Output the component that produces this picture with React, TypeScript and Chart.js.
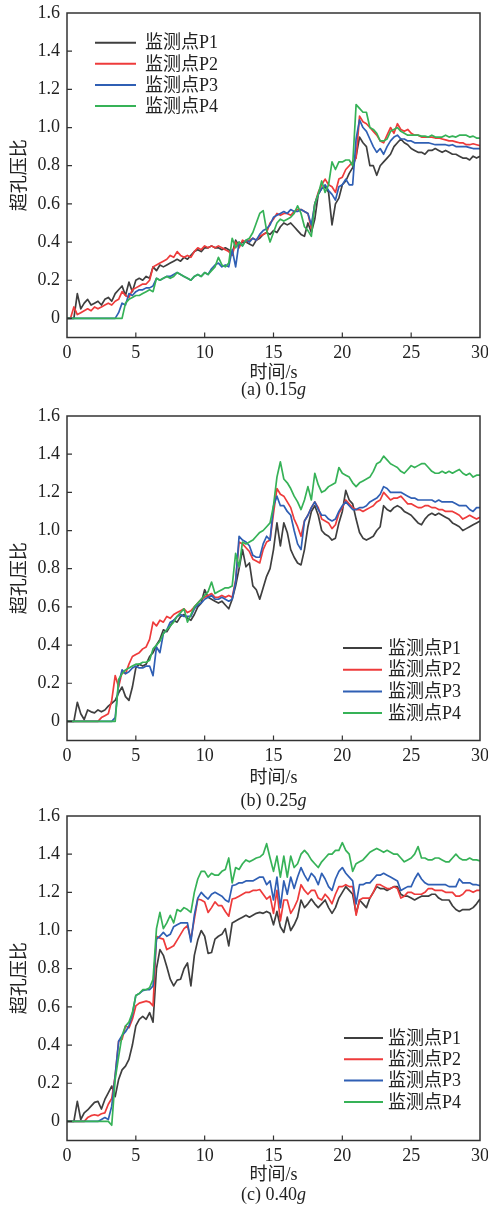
import React, { useEffect, useRef } from 'react';
import { Chart, registerables } from 'chart.js';

Chart.register(...registerables);

// ---------- data ----------
const TIME = [
  0, 0.25, 0.5, 0.75, 1, 1.25, 1.5, 1.75, 2, 2.25, 2.5, 2.75, 3, 3.25, 3.5, 3.75,
  4, 4.25, 4.5, 4.75, 5, 5.25, 5.5, 5.75, 6, 6.25, 6.5, 6.75, 7, 7.25, 7.5, 7.75,
  8, 8.25, 8.5, 8.75, 9, 9.25, 9.5, 9.75, 10, 10.25, 10.5, 10.75, 11, 11.25, 11.5, 11.75,
  12, 12.25, 12.5, 12.75, 13, 13.25, 13.5, 13.75, 14, 14.25, 14.5, 14.75, 15, 15.25, 15.5, 15.75,
  16, 16.25, 16.5, 16.75, 17, 17.25, 17.5, 17.75, 18, 18.25, 18.5, 18.75, 19, 19.25, 19.5, 19.75,
  20, 20.25, 20.5, 20.75, 21, 21.25, 21.5, 21.75, 22, 22.25, 22.5, 22.75, 23, 23.25, 23.5, 23.75,
  24, 24.25, 24.5, 24.75, 25, 25.25, 25.5, 25.75, 26, 26.25, 26.5, 26.75, 27, 27.25, 27.5, 27.75,
  28, 28.25, 28.5, 28.75, 29, 29.25, 29.5, 29.75, 30,
];

const X_TICKS = [0, 5, 10, 15, 20, 25, 30];
const Y_TICKS = [0, 0.2, 0.4, 0.6, 0.8, 1.0, 1.2, 1.4, 1.6];
const SERIES_NAMES = ['监测点P1', '监测点P2', '监测点P3', '监测点P4'];
const SERIES_COLORS = ['#3f3f3f', '#ee3b3b', '#2f5fb4', '#36b257'];
const X_TITLE = '时间/s';
const Y_TITLE = '超孔压比';

// (a) 0.15g
const A_P1 = [
  0, 0, 0, 0.13, 0.05, 0.08, 0.10, 0.07, 0.08, 0.09, 0.07, 0.10, 0.11, 0.09, 0.13, 0.15,
  0.17, 0.12, 0.19, 0.14, 0.20, 0.21, 0.20, 0.22, 0.21, 0.27, 0.25, 0.28, 0.27, 0.28, 0.29, 0.30,
  0.31, 0.30, 0.32, 0.31, 0.33, 0.35, 0.36, 0.35, 0.37, 0.37, 0.38, 0.37, 0.37, 0.36, 0.37, 0.36,
  0.34, 0.41, 0.38, 0.40, 0.40, 0.39, 0.38, 0.41, 0.42, 0.44, 0.45, 0.44, 0.46, 0.45, 0.48, 0.50,
  0.49, 0.50, 0.48, 0.46, 0.44, 0.43, 0.50, 0.45, 0.52, 0.65, 0.68, 0.69, 0.66, 0.49, 0.60, 0.63,
  0.70, 0.72, 0.76, 0.79, 0.85, 0.95, 0.92, 0.90, 0.80, 0.80, 0.75, 0.80, 0.82, 0.84, 0.86, 0.90,
  0.92, 0.94, 0.92, 0.91, 0.89, 0.88, 0.87, 0.87, 0.86, 0.88, 0.88, 0.89, 0.88, 0.87, 0.88, 0.87,
  0.86, 0.86, 0.85, 0.84, 0.84, 0.83, 0.85, 0.84, 0.85,
];
const A_P2 = [
  0, 0, 0.06, 0.02, 0.03, 0.04, 0.05, 0.04, 0.06, 0.05, 0.06, 0.07, 0.08, 0.07, 0.09, 0.10,
  0.14, 0.12, 0.11, 0.15, 0.16, 0.17, 0.18, 0.18, 0.20, 0.27, 0.28, 0.29, 0.30, 0.31, 0.33, 0.32,
  0.35, 0.33, 0.32, 0.33, 0.32, 0.35, 0.37, 0.36, 0.38, 0.37, 0.38, 0.37, 0.38, 0.37, 0.36, 0.35,
  0.33, 0.40, 0.37, 0.41, 0.40, 0.41, 0.42, 0.41, 0.43, 0.44, 0.45, 0.50, 0.52, 0.55, 0.54, 0.55,
  0.55, 0.54, 0.56, 0.57, 0.57, 0.56, 0.55, 0.47, 0.60, 0.66, 0.70, 0.73, 0.70, 0.69, 0.66, 0.73,
  0.74, 0.78, 0.80, 0.82, 0.84, 1.06, 1.03, 1.02, 1.00, 0.98, 0.96, 0.93, 0.92, 0.96, 1.00, 0.97,
  1.02, 0.99, 0.98, 0.99, 0.97, 0.96, 0.96, 0.95, 0.95, 0.95, 0.95, 0.945, 0.945, 0.94, 0.935, 0.93,
  0.93, 0.925, 0.92, 0.92, 0.91, 0.91, 0.915, 0.91, 0.905,
];
const A_P3 = [
  0, 0, 0, 0, 0, 0, 0, 0, 0, 0, 0, 0, 0, 0, 0, 0.03,
  0.08, 0.07, 0.13, 0.12, 0.14, 0.15, 0.15, 0.16, 0.16, 0.17, 0.21, 0.20, 0.21, 0.22, 0.22, 0.23,
  0.24, 0.23, 0.22, 0.21, 0.20, 0.22, 0.23, 0.22, 0.24, 0.23, 0.26, 0.28, 0.29, 0.27, 0.28, 0.27,
  0.36, 0.27, 0.40, 0.38, 0.41, 0.40, 0.42, 0.41, 0.44, 0.46, 0.47, 0.49, 0.53, 0.54, 0.55, 0.56,
  0.55, 0.57, 0.56, 0.56, 0.57, 0.56, 0.55, 0.49, 0.60, 0.65, 0.68, 0.70, 0.67, 0.65, 0.62, 0.69,
  0.70, 0.73, 0.70, 0.70, 0.94, 1.04, 1.00, 0.98, 0.94, 0.90, 0.87, 0.89, 0.86, 0.90, 0.93, 0.95,
  0.96, 0.94, 0.94, 0.93, 0.93, 0.92, 0.92, 0.92, 0.92, 0.92, 0.915, 0.91, 0.91, 0.91, 0.91, 0.905,
  0.91, 0.90, 0.90, 0.90, 0.90, 0.895, 0.89, 0.89, 0.89,
];
const A_P4 = [
  0, 0, 0, 0, 0, 0, 0, 0, 0, 0, 0, 0, 0, 0, 0, 0,
  0, 0.08, 0.10, 0.11, 0.12, 0.12, 0.13, 0.14, 0.15, 0.14, 0.21, 0.20, 0.21, 0.22, 0.21, 0.22,
  0.24, 0.23, 0.22, 0.21, 0.20, 0.22, 0.23, 0.22, 0.24, 0.23, 0.25, 0.27, 0.32, 0.28, 0.27, 0.29,
  0.42, 0.37, 0.40, 0.38, 0.41, 0.42, 0.45, 0.50, 0.55, 0.565, 0.46, 0.40, 0.45, 0.50, 0.52, 0.51,
  0.52, 0.53, 0.55, 0.59, 0.55, 0.48, 0.46, 0.43, 0.60, 0.65, 0.72, 0.66, 0.70, 0.82, 0.78, 0.82,
  0.82, 0.83, 0.83, 0.80, 1.12, 1.10, 1.08, 1.08, 1.00, 0.99, 0.97, 0.93, 0.93, 0.94, 0.98, 0.99,
  1.00, 0.98, 0.97, 0.96, 0.96, 0.96, 0.96, 0.955, 0.955, 0.95, 0.96, 0.95, 0.95, 0.95, 0.96, 0.95,
  0.955, 0.95, 0.96, 0.96, 0.96, 0.95, 0.955, 0.945, 0.945,
];

// (b) 0.25g
const B_P1 = [
  0, 0, 0, 0.10, 0.04, 0.01, 0.06, 0.05, 0.045, 0.06, 0.05, 0.06, 0.08, 0.095, 0.11, 0.15,
  0.18, 0.13, 0.11, 0.18, 0.28, 0.30, 0.29, 0.30, 0.34, 0.36, 0.40, 0.43, 0.48, 0.47, 0.50, 0.53,
  0.52, 0.55, 0.56, 0.54, 0.53, 0.56, 0.60, 0.62, 0.69, 0.65, 0.64, 0.63, 0.62, 0.63, 0.61, 0.59,
  0.64, 0.71, 0.80, 0.90, 0.81, 0.83, 0.71, 0.69, 0.64, 0.70, 0.76, 0.80, 0.90, 1.04, 0.92, 1.04,
  0.99, 0.90, 0.86, 0.83, 0.82, 0.90, 1.02, 1.10, 1.13, 1.08, 1.00, 0.98, 0.97, 0.95, 0.96, 1.04,
  1.10, 1.21, 1.16, 1.14, 1.06, 0.99, 0.96, 0.95, 0.96, 0.97, 1.00, 1.02, 1.13, 1.11, 1.10, 1.12,
  1.13, 1.12, 1.10, 1.09, 1.08, 1.06, 1.04, 1.03, 1.06, 1.08, 1.09, 1.08, 1.09, 1.08, 1.07, 1.06,
  1.04, 1.03, 1.02, 1.00, 1.01, 1.02, 1.03, 1.04, 1.05,
];
const B_P2 = [
  0, 0, 0, 0, 0, 0, 0, 0, 0, 0, 0.02, 0.03, 0.04, 0.11, 0.24, 0.18,
  0.26, 0.25, 0.30, 0.34, 0.35, 0.36, 0.38, 0.39, 0.43, 0.52, 0.50, 0.53, 0.52, 0.55, 0.54, 0.56,
  0.57, 0.58, 0.59, 0.57, 0.58, 0.60, 0.62, 0.64, 0.65, 0.66, 0.67, 0.65, 0.65, 0.66, 0.65, 0.66,
  0.65, 0.74, 0.94, 0.93, 0.91, 0.89, 0.85, 0.84, 0.83, 0.90, 0.94, 0.95, 1.09, 1.22, 1.19, 1.18,
  1.15, 1.12, 1.06, 1.02, 0.97, 1.05, 1.08, 1.12, 1.15, 1.12, 1.06, 1.05, 1.04, 1.01, 1.03, 1.09,
  1.12, 1.16, 1.14, 1.12, 1.11, 1.11, 1.10, 1.11, 1.12, 1.13, 1.15, 1.16, 1.20, 1.18, 1.16, 1.17,
  1.17, 1.18, 1.16, 1.14, 1.14, 1.13, 1.12, 1.12, 1.13, 1.13, 1.12, 1.12, 1.11, 1.11, 1.10, 1.10,
  1.10, 1.09, 1.08, 1.06, 1.07, 1.08, 1.07, 1.06, 1.07,
];
const B_P3 = [
  0, 0, 0, 0, 0, 0, 0, 0, 0, 0, 0, 0, 0, 0, 0.02, 0.20,
  0.27, 0.25, 0.26, 0.28, 0.29, 0.28, 0.28, 0.29, 0.29, 0.24, 0.39, 0.36, 0.46, 0.48, 0.52, 0.53,
  0.55, 0.56, 0.55, 0.55, 0.55, 0.59, 0.61, 0.62, 0.64, 0.65, 0.66, 0.64, 0.64, 0.65, 0.64, 0.63,
  0.64, 0.73, 0.97, 0.95, 0.94, 0.92, 0.87, 0.86, 0.86, 0.93, 0.97, 0.95, 1.13, 1.18, 1.13, 1.13,
  1.10, 1.08, 1.00, 0.93, 0.90, 1.05, 1.08, 1.12, 1.15, 1.11, 1.08, 1.08, 1.06, 1.05, 1.06, 1.10,
  1.13, 1.15, 1.13, 1.11, 1.11, 1.12, 1.12, 1.13, 1.15, 1.16, 1.17, 1.19, 1.23, 1.22, 1.20, 1.20,
  1.20, 1.20, 1.19, 1.18, 1.17, 1.17, 1.16, 1.16, 1.16, 1.16, 1.16, 1.15, 1.16, 1.15, 1.15, 1.15,
  1.15, 1.14, 1.13, 1.13, 1.13, 1.11, 1.10, 1.12, 1.12,
];
const B_P4 = [
  0, 0, 0, 0, 0, 0, 0, 0, 0, 0, 0, 0, 0, 0, 0, 0.22,
  0.25, 0.27, 0.28, 0.29, 0.30, 0.30, 0.31, 0.31, 0.32, 0.38, 0.40, 0.42, 0.46, 0.48, 0.50, 0.52,
  0.55, 0.57, 0.59, 0.52, 0.56, 0.60, 0.62, 0.64, 0.66, 0.68, 0.73, 0.67, 0.68, 0.69, 0.70, 0.70,
  0.71, 0.88, 0.81, 0.94, 0.93, 0.94, 0.95, 0.97, 0.99, 1.00, 1.02, 1.04, 1.13, 1.28, 1.36, 1.27,
  1.25, 1.22, 1.18, 1.15, 1.11, 1.16, 1.23, 1.16, 1.30, 1.24, 1.20, 1.21, 1.23, 1.24, 1.25, 1.33,
  1.30, 1.29, 1.28, 1.25, 1.23, 1.25, 1.26, 1.27, 1.28, 1.31, 1.35, 1.36, 1.39, 1.37, 1.35, 1.34,
  1.33, 1.31, 1.30, 1.32, 1.34, 1.33, 1.34, 1.35, 1.35, 1.33, 1.31, 1.30, 1.30, 1.31, 1.30, 1.31,
  1.30, 1.31, 1.32, 1.30, 1.29, 1.30, 1.28, 1.29, 1.29,
];

// (c) 0.40g
const C_P1 = [
  0, 0, 0, 0.105, 0.01, 0.045, 0.06, 0.08, 0.10, 0.105, 0.065, 0.115, 0.15, 0.185, 0.13, 0.22,
  0.27, 0.29, 0.325, 0.40, 0.50, 0.535, 0.55, 0.535, 0.57, 0.52, 0.80, 0.90, 0.87, 0.81, 0.745, 0.71,
  0.74, 0.745, 0.80, 0.83, 0.71, 0.87, 0.95, 1.00, 0.97, 0.88, 0.885, 0.955, 0.97, 0.98, 1.01, 0.92,
  1.04, 1.05, 1.06, 1.07, 1.08, 1.07, 1.08, 1.09, 1.095, 1.09, 1.10, 1.09, 1.03, 1.10, 1.02, 0.99,
  1.07, 1.00, 1.03, 1.07, 1.16, 1.12, 1.14, 1.165, 1.14, 1.12, 1.14, 1.16, 1.12, 1.09, 1.12, 1.17,
  1.20, 1.23, 1.21, 1.19, 1.09, 1.16, 1.14, 1.12, 1.17, 1.20, 1.23, 1.22, 1.22, 1.21, 1.22, 1.23,
  1.23, 1.19, 1.18, 1.18, 1.17, 1.16, 1.17, 1.18, 1.18, 1.18, 1.19, 1.19, 1.17, 1.16, 1.16, 1.16,
  1.13, 1.11, 1.10, 1.11, 1.11, 1.11, 1.12, 1.14, 1.165,
];
const C_P2 = [
  0, 0, 0, 0, 0, 0, 0.02, 0.03, 0.035, 0.03, 0.04, 0.045, 0.09, 0.12, 0.24, 0.42,
  0.43, 0.50, 0.49, 0.535, 0.605, 0.62, 0.625, 0.63, 0.625, 0.605, 0.97, 0.96, 0.955, 0.90, 0.91, 0.92,
  0.95, 0.98, 1.01, 1.025, 0.955, 1.06, 1.165, 1.16, 1.15, 1.095, 1.12, 1.15, 1.13, 1.13, 1.10, 1.075,
  1.165, 1.17, 1.18, 1.19, 1.20, 1.20, 1.21, 1.21, 1.215, 1.19, 1.165, 1.18, 1.09, 1.21, 1.05, 1.16,
  1.16, 1.09, 1.12, 1.16, 1.24, 1.21, 1.19, 1.21, 1.21, 1.17, 1.16, 1.19, 1.17, 1.14, 1.19, 1.23,
  1.23, 1.24, 1.23, 1.23, 1.08, 1.16, 1.17, 1.17, 1.17, 1.20, 1.24, 1.24, 1.23, 1.22, 1.22, 1.23,
  1.22, 1.17, 1.18, 1.20, 1.20, 1.19, 1.19, 1.19, 1.20, 1.22, 1.22, 1.21, 1.21, 1.21, 1.20, 1.20,
  1.20, 1.18, 1.18, 1.19, 1.21, 1.21, 1.20, 1.21, 1.21,
];
const C_P3 = [
  0, 0, 0, 0, 0, 0, 0, 0, 0, 0, 0.01, 0.02, 0.01, 0.08, 0.24, 0.42,
  0.45, 0.47, 0.50, 0.56, 0.66, 0.67, 0.685, 0.69, 0.69, 0.71, 0.955, 0.97, 0.99, 0.97, 0.98, 1.02,
  1.03, 1.04, 1.04, 1.04, 0.94, 1.08, 1.17, 1.20, 1.18, 1.165, 1.19, 1.20, 1.19, 1.18, 1.16, 1.15,
  1.235, 1.24, 1.25, 1.25, 1.26, 1.26, 1.26, 1.27, 1.28, 1.28, 1.24, 1.26, 1.16, 1.28, 1.12, 1.26,
  1.19, 1.28, 1.22, 1.28, 1.33, 1.29, 1.26, 1.30, 1.28, 1.24, 1.30, 1.27, 1.23, 1.21, 1.27, 1.31,
  1.33, 1.30, 1.28, 1.26, 1.14, 1.24, 1.24, 1.25, 1.25, 1.27, 1.29, 1.29, 1.30, 1.29, 1.28, 1.27,
  1.26, 1.21, 1.22, 1.23, 1.23, 1.27, 1.30, 1.27, 1.25, 1.24, 1.24, 1.24, 1.24, 1.24, 1.24, 1.23,
  1.23, 1.23, 1.27, 1.25, 1.25, 1.25, 1.24, 1.24, 1.235,
];
const C_P4 = [
  0, 0, 0, 0, 0, 0, 0, 0, 0, 0, 0, 0, 0, -0.02, 0.22, 0.34,
  0.45, 0.50, 0.52, 0.57, 0.66, 0.67, 0.69, 0.69, 0.70, 0.745, 1.01, 1.095, 1.01, 1.04, 1.08, 1.04,
  1.11, 1.10, 1.12, 1.11, 1.095, 1.20, 1.27, 1.31, 1.31, 1.28, 1.30, 1.29, 1.29, 1.31, 1.32, 1.38,
  1.25, 1.33, 1.32, 1.35, 1.37, 1.36, 1.37, 1.38, 1.385, 1.40, 1.455, 1.38, 1.31, 1.39, 1.28, 1.39,
  1.28, 1.39, 1.33, 1.35, 1.40, 1.42, 1.40, 1.37, 1.35, 1.33, 1.36, 1.38, 1.40, 1.40, 1.42, 1.42,
  1.46, 1.42, 1.40, 1.31, 1.35, 1.36, 1.37, 1.39, 1.41, 1.42, 1.43, 1.42, 1.41, 1.42, 1.41, 1.40,
  1.40, 1.38, 1.36, 1.37, 1.38, 1.40, 1.44, 1.38, 1.38, 1.37, 1.37, 1.38, 1.38, 1.37, 1.36, 1.36,
  1.38, 1.40, 1.38, 1.37, 1.37, 1.38, 1.37, 1.37, 1.365,
];

// ---------- layout ----------
const FONT = "'Liberation Serif', 'Noto Sans CJK SC', serif";
const TEXT_COLOR = '#222222';
const CANVAS_W = 488;
const CANVAS_H = 420;
const AREA_TOP = 16;
const AREA_H = 324.5;

const PANELS = [
  {
    id: 'a', caption: '(a) 0.15', series: [A_P1, A_P2, A_P3, A_P4], top: -3,
    legend: { x1: 95, x2: 136, tx: 145, y0: 29.7, gap: 21.1 }, captionOffset: 52.5, titleOffset: 35.5,
  },
  {
    id: 'b', caption: '(b) 0.25', series: [B_P1, B_P2, B_P3, B_P4], top: 400,
    legend: { x1: 343, x2: 382, tx: 388, y0: 232, gap: 21.7 }, captionOffset: 61.2, titleOffset: 37.5,
  },
  {
    id: 'c', caption: '(c) 0.40', series: [C_P1, C_P2, C_P3, C_P4], top: 800,
    legend: { x1: 344, x2: 383, tx: 388, y0: 222, gap: 21.3 }, captionOffset: 54.5, titleOffset: 34.5,
  },
];

const decoPlugin = {
  id: 'panelDeco',
  afterDraw(chart: any, _args: any, opts: any) {
    const { ctx, chartArea } = chart;
    const { left, right, top, bottom } = chartArea;
    const xs = chart.scales.x;
    const ys = chart.scales.y;
    ctx.save();
    // frame
    ctx.strokeStyle = '#333333';
    ctx.lineWidth = 1.5;
    ctx.strokeRect(left, top, right - left, bottom - top);
    // inward ticks
    ctx.lineWidth = 1.2;
    ctx.beginPath();
    X_TICKS.forEach((v) => {
      const px = xs.getPixelForValue(v);
      if (px <= left + 1 || px >= right - 1) return;
      ctx.moveTo(px, bottom);
      ctx.lineTo(px, bottom - 5);
    });
    Y_TICKS.forEach((v) => {
      const py = ys.getPixelForValue(v);
      if (py <= top + 1 || py >= bottom - 1) return;
      ctx.moveTo(left, py);
      ctx.lineTo(left + 5, py);
    });
    ctx.stroke();
    // legend
    const lg = opts.legend;
    ctx.font = `18px ${FONT}`;
    ctx.textBaseline = 'middle';
    ctx.textAlign = 'left';
    chart.data.datasets.forEach((ds: any, i: number) => {
      const y = top + lg.y0 + i * lg.gap;
      ctx.strokeStyle = ds.borderColor;
      ctx.lineWidth = 2;
      ctx.beginPath();
      ctx.moveTo(lg.x1, y);
      ctx.lineTo(lg.x2, y);
      ctx.stroke();
      ctx.fillStyle = TEXT_COLOR;
      ctx.fillText(ds.label, lg.tx, y + 1);
    });
    // caption
    const cy = bottom + opts.captionOffset;
    const cx = (left + right) / 2;
    ctx.font = `18px ${FONT}`;
    const w1 = ctx.measureText(opts.caption + '').width;
    ctx.font = `italic 18px ${FONT}`;
    const w2 = ctx.measureText('g').width;
    const sx = cx - (w1 + w2) / 2;
    ctx.fillStyle = TEXT_COLOR;
    ctx.font = `18px ${FONT}`;
    ctx.fillText(opts.caption, sx, cy);
    ctx.font = `italic 18px ${FONT}`;
    ctx.fillText('g', sx + w1, cy);
    ctx.restore();
  },
};

function Panel({ cfg }: { cfg: any }) {
  const ref = useRef<HTMLCanvasElement>(null);
  useEffect(() => {
    const xScaleH = CANVAS_H - AREA_TOP - AREA_H;
    const titlePadBottom = CANVAS_H - 10.8 - (AREA_TOP + AREA_H) - cfg.titleOffset;
    const chart = new Chart(ref.current as HTMLCanvasElement, {
      type: 'line',
      data: {
        datasets: cfg.series.map((arr: number[], i: number) => ({
          label: SERIES_NAMES[i],
          data: TIME.map((t, k) => ({ x: t, y: arr[k] })),
          borderColor: SERIES_COLORS[i],
          backgroundColor: SERIES_COLORS[i],
          borderWidth: 1.7,
          pointRadius: 0,
          tension: 0,
          fill: false,
          order: 4 - i,
          borderJoinStyle: 'round',
        })),
      },
      options: {
        responsive: false,
        animation: false,
        layout: { padding: { top: AREA_TOP, right: 8, left: 0, bottom: 0 } },
        plugins: {
          legend: { display: false },
          tooltip: { enabled: false },
          panelDeco: {
            legend: cfg.legend,
            caption: cfg.caption,
            captionOffset: cfg.captionOffset,
          },
        } as any,
        scales: {
          x: {
            type: 'linear',
            min: 0,
            max: 30,
            afterBuildTicks: (s: any) => {
              s.ticks = X_TICKS.map((v) => ({ value: v }));
            },
            afterFit: (s: any) => {
              s.height = xScaleH;
              s.paddingLeft = 0;
              s.paddingRight = 0;
            },
            grid: { display: false, drawTicks: false, tickLength: 0 },
            border: { display: false },
            ticks: {
              autoSkip: false,
              maxRotation: 0,
              padding: 5,
              color: TEXT_COLOR,
              font: { family: FONT, size: 18 },
              callback: (v: any) => String(v),
            },
            title: {
              display: true,
              text: X_TITLE,
              color: TEXT_COLOR,
              font: { family: FONT, size: 18 },
              padding: { top: 0, bottom: titlePadBottom },
            },
          },
          y: {
            type: 'linear',
            min: -0.1,
            max: 1.6,
            afterBuildTicks: (s: any) => {
              s.ticks = Y_TICKS.map((v) => ({ value: v }));
            },
            afterFit: (s: any) => {
              s.width = 67;
              s.paddingTop = 0;
              s.paddingBottom = 0;
            },
            grid: { display: false, drawTicks: false, tickLength: 0 },
            border: { display: false },
            ticks: {
              padding: 7,
              color: TEXT_COLOR,
              font: { family: FONT, size: 18 },
              callback: (v: any) => (Math.abs(v) < 1e-9 ? '0' : Number(v).toFixed(1)),
            },
            title: {
              display: true,
              text: Y_TITLE,
              color: TEXT_COLOR,
              font: { family: FONT, size: 18 },
              padding: { top: 9, bottom: 0 },
            },
          },
        },
      } as any,
      plugins: [decoPlugin as any],
    });
    return () => chart.destroy();
  }, [cfg]);
  return (
    <canvas
      ref={ref}
      width={CANVAS_W}
      height={CANVAS_H}
      style={{ position: 'absolute', left: 0, top: cfg.top, width: CANVAS_W, height: CANVAS_H }}
    />
  );
}

export default function App() {
  return (
    <div style={{ position: 'absolute', left: 0, top: 0, width: 488, height: 1207, background: '#ffffff', overflow: 'hidden' }}>
      {PANELS.map((p) => (
        <Panel key={p.id} cfg={p} />
      ))}
    </div>
  );
}
